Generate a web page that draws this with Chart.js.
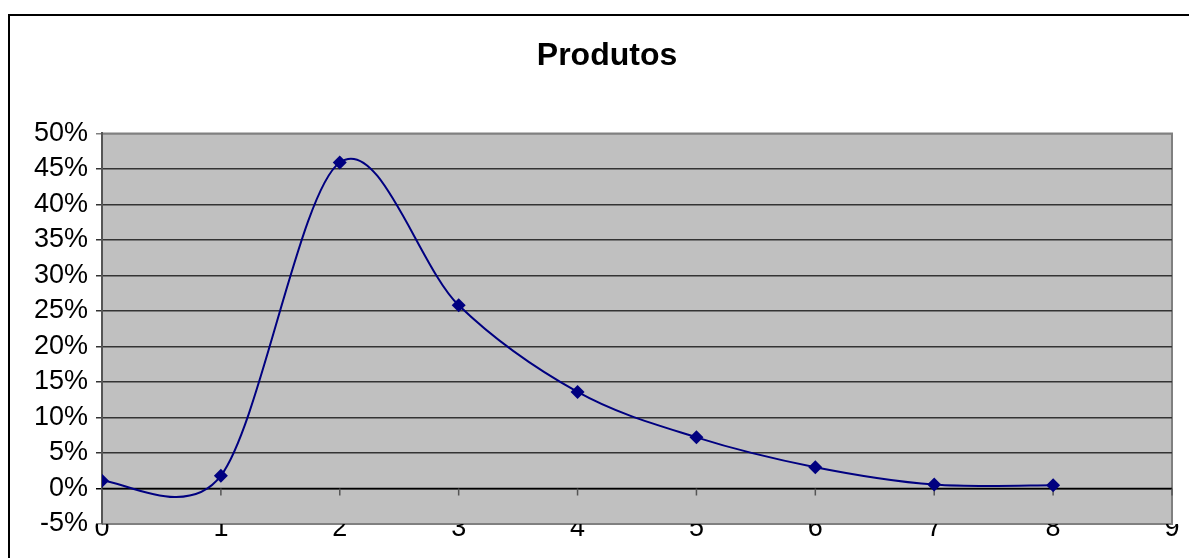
<!DOCTYPE html>
<html>
<head>
<meta charset="utf-8">
<script src="https://cdn.jsdelivr.net/npm/chart.js@4"></script>
<style>
  html, body { margin: 0; padding: 0; background: #fff; }
  #wrap { position: relative; width: 1189px; height: 558px; overflow: hidden; }
  #frame { position: absolute; left: 8px; top: 14px; width: 1210px; height: 560px;
    border: 2px solid #000; box-sizing: border-box; }
  canvas { position: absolute; left: 0; top: 0; }
</style>
</head>
<body>
<div id="wrap">
  <div id="frame"></div>
  <!-- o gráfico original é mais largo que a janela: título centrado em ~607px -->
  <canvas id="c" width="1214" height="558"></canvas>
</div>
<script>
// Produtos — curva suavizada (estilo Excel)
const TITLE = "Produtos";
const xValues = [0, 1, 2, 3, 4, 5, 6, 7, 8];
const yValues = [1.1, 1.8, 45.9, 25.8, 13.6, 7.2, 3.0, 0.55, 0.45]; // em %
const xTicks = [0, 1, 2, 3, 4, 5, 6, 7, 8, 9];
const yTicks = [-5, 0, 5, 10, 15, 20, 25, 30, 35, 40, 45, 50];

const NAVY = "#000080";
const FONT = "'Liberation Sans', Arial, sans-serif";
const SMOOTH = 1 / 6;

// fundo cinza + borda da área de plotagem
const plotArea = {
  id: "plotArea",
  beforeDraw(chart) {
    const { ctx, chartArea: a } = chart;
    ctx.save();
    ctx.fillStyle = "#C0C0C0";
    ctx.fillRect(a.left, a.top, a.right - a.left, a.bottom - a.top);
    ctx.strokeStyle = "#808080";
    ctx.lineWidth = 2;
    ctx.beginPath();
    ctx.moveTo(a.left, a.top);
    ctx.lineTo(a.right, a.top);
    ctx.lineTo(a.right, a.bottom);
    ctx.lineTo(a.left, a.bottom);
    ctx.stroke();
    ctx.restore();
  },
  beforeDatasetsDraw(chart) {
    const { ctx, chartArea: a, scales } = chart;
    // eixo x em 0%: linha preta com marcas para baixo
    const y0 = scales.y.getPixelForValue(0);
    ctx.save();
    ctx.strokeStyle = "#000";
    ctx.lineWidth = 1.5;
    ctx.beginPath();
    ctx.moveTo(a.left, y0);
    ctx.lineTo(a.right, y0);
    ctx.stroke();
    ctx.strokeStyle = "#555";
    ctx.beginPath();
    xTicks.forEach((t) => {
      const x = scales.x.getPixelForValue(t);
      ctx.moveTo(x, y0);
      ctx.lineTo(x, y0 + 7);
    });
    ctx.stroke();
    ctx.restore();

    // suavização tipo Excel: Catmull-Rom (1/6) sobre os pontos já escalados,
    // encurtando o lado do segmento muito mais curto que o outro
    const line = chart.getDatasetMeta(0).dataset;
    line.updateControlPoints(a, "x");
    const pts = line.points;
    const dist = (p, q) => Math.hypot(q.x - p.x, q.y - p.y);
    pts.forEach((p, i) => {
      const prev = pts[i - 1] || p;
      const next = pts[i + 1] || p;
      const dPrev = dist(prev, p), dNext = dist(p, next);
      const fPrev = dNext ? SMOOTH * Math.min(1, 0.5 + dPrev / dNext) : SMOOTH;
      const fNext = dPrev ? SMOOTH * Math.min(1, 0.5 + dNext / dPrev) : SMOOTH;
      const tx = next.x - prev.x, ty = next.y - prev.y;
      p.cp1x = p.x - tx * fPrev; p.cp1y = p.y - ty * fPrev;
      p.cp2x = p.x + tx * fNext; p.cp2y = p.y + ty * fNext;
    });
    line._path = undefined;
  },
};

const edgeColor = (c, inner) => {
  const v = c.tick && c.tick.value;
  if (v === 0) return "#000";
  if (v === 50 || v === -5) return "#808080";
  return inner;
};

new Chart(document.getElementById("c"), {
  type: "scatter",
  data: {
    datasets: [{
      data: xValues.map((x, i) => ({ x, y: yValues[i] })),
      showLine: true,
      borderColor: NAVY,
      borderWidth: 2,
      tension: 0.4,
      pointStyle: "rectRot",
      pointRadius: 7,
      pointBackgroundColor: NAVY,
      pointBorderColor: NAVY,
      pointBorderWidth: 0,
    }],
  },
  options: {
    responsive: false,
    animation: false,
    layout: { padding: 0 },
    plugins: {
      legend: { display: false },
      tooltip: { enabled: false },
      title: {
        display: true, text: TITLE, color: "#000",
        font: { family: FONT, size: 32, weight: "bold" },
        padding: { top: 37, bottom: 58 },
      },
    },
    scales: {
      x: {
        type: "linear", min: 0, max: 9,
        afterBuildTicks: (s) => { s.ticks = xTicks.map((v) => ({ value: v })); },
        afterFit: (s) => { s.height = 34; },
        grid: { display: false, drawTicks: false },
        border: { display: false },
        ticks: { color: "#000", padding: -12, font: { family: FONT, size: 27 } },
      },
      y: {
        min: -5, max: 50,
        afterBuildTicks: (s) => { s.ticks = yTicks.map((v) => ({ value: v })); },
        afterFit: (s) => { s.width = 102; },
        grid: {
          color: (c) => edgeColor(c, "#333"),
          lineWidth: 1.5, tickLength: 6,
        },
        border: { display: true, color: "#555", width: 2 },
        ticks: {
          color: "#000", padding: 8,
          font: { family: FONT, size: 27 },
          callback: (v) => v + "%",
        },
      },
      // eixo vazio à direita só para reservar a margem (sem texto nem linhas)
      yRight: {
        position: "right", min: -5, max: 50,
        afterFit: (s) => { s.width = 42; },
        grid: { display: false, drawTicks: false },
        border: { display: false },
        ticks: { display: false },
      },
    },
  },
  plugins: [plotArea],
});
</script>
</body>
</html>
